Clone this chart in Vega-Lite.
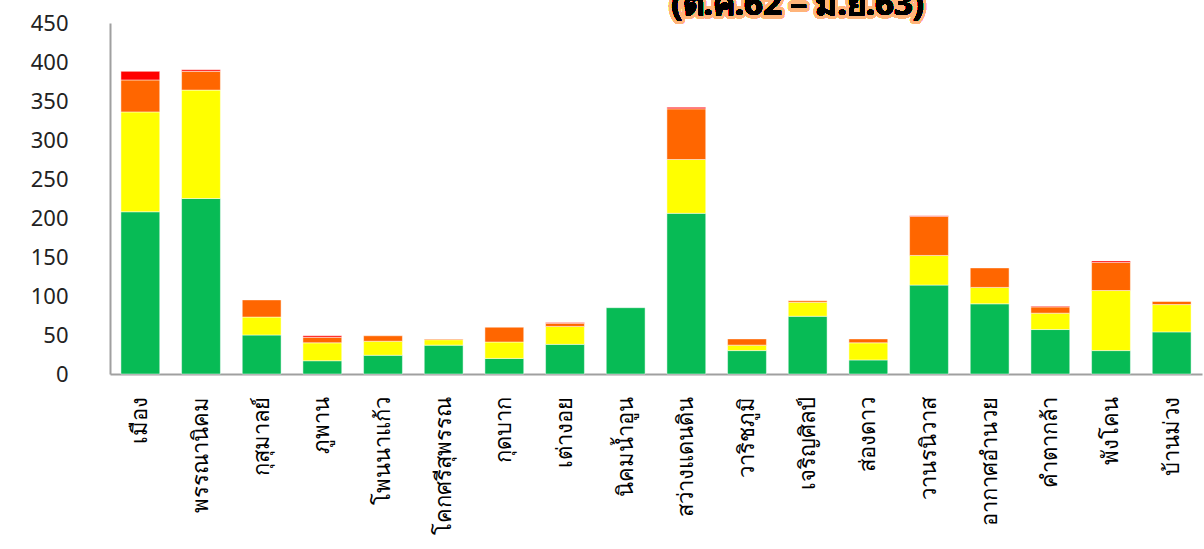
{
  "$schema": "https://vega.github.io/schema/vega-lite/v6.json",
  "autosize": {"type": "none"},
  "width": 1092,
  "height": 351,
  "padding": {"left": 110, "top": 23, "right": 2, "bottom": 175},
  "background": "white",
  "config": {"view": {"stroke": null}, "font": "Noto Sans"},
  "data": {"values": [
    {"district": "เมือง", "risk": 1, "value": 208}, {"district": "เมือง", "risk": 2, "value": 128}, {"district": "เมือง", "risk": 3, "value": 41}, {"district": "เมือง", "risk": 4, "value": 11},
    {"district": "พรรณานิคม", "risk": 1, "value": 225}, {"district": "พรรณานิคม", "risk": 2, "value": 139}, {"district": "พรรณานิคม", "risk": 3, "value": 24}, {"district": "พรรณานิคม", "risk": 4, "value": 2},
    {"district": "กุสุมาลย์", "risk": 1, "value": 50}, {"district": "กุสุมาลย์", "risk": 2, "value": 23}, {"district": "กุสุมาลย์", "risk": 3, "value": 22},
    {"district": "ภูพาน", "risk": 1, "value": 17}, {"district": "ภูพาน", "risk": 2, "value": 23}, {"district": "ภูพาน", "risk": 3, "value": 7}, {"district": "ภูพาน", "risk": 4, "value": 2},
    {"district": "โพนนาแก้ว", "risk": 1, "value": 24}, {"district": "โพนนาแก้ว", "risk": 2, "value": 18}, {"district": "โพนนาแก้ว", "risk": 3, "value": 7},
    {"district": "โคกศรีสุพรรณ", "risk": 1, "value": 37}, {"district": "โคกศรีสุพรรณ", "risk": 2, "value": 7}, {"district": "โคกศรีสุพรรณ", "risk": 3, "value": 1},
    {"district": "กุดบาก", "risk": 1, "value": 20}, {"district": "กุดบาก", "risk": 2, "value": 21}, {"district": "กุดบาก", "risk": 3, "value": 19},
    {"district": "เต่างอย", "risk": 1, "value": 38}, {"district": "เต่างอย", "risk": 2, "value": 23}, {"district": "เต่างอย", "risk": 3, "value": 4}, {"district": "เต่างอย", "risk": 4, "value": 1},
    {"district": "นิคมน้ำอูน", "risk": 1, "value": 85},
    {"district": "สว่างแดนดิน", "risk": 1, "value": 206}, {"district": "สว่างแดนดิน", "risk": 2, "value": 69}, {"district": "สว่างแดนดิน", "risk": 3, "value": 65}, {"district": "สว่างแดนดิน", "risk": 4, "value": 2},
    {"district": "วาริชภูมิ", "risk": 1, "value": 30}, {"district": "วาริชภูมิ", "risk": 2, "value": 7}, {"district": "วาริชภูมิ", "risk": 3, "value": 8},
    {"district": "เจริญศิลป์", "risk": 1, "value": 74}, {"district": "เจริญศิลป์", "risk": 2, "value": 18}, {"district": "เจริญศิลป์", "risk": 3, "value": 2},
    {"district": "ส่องดาว", "risk": 1, "value": 18}, {"district": "ส่องดาว", "risk": 2, "value": 22}, {"district": "ส่องดาว", "risk": 3, "value": 5},
    {"district": "วานรนิวาส", "risk": 1, "value": 114}, {"district": "วานรนิวาส", "risk": 2, "value": 38}, {"district": "วานรนิวาส", "risk": 3, "value": 50}, {"district": "วานรนิวาส", "risk": 4, "value": 1},
    {"district": "อากาศอำนวย", "risk": 1, "value": 90}, {"district": "อากาศอำนวย", "risk": 2, "value": 21}, {"district": "อากาศอำนวย", "risk": 3, "value": 25},
    {"district": "คำตากล้า", "risk": 1, "value": 57}, {"district": "คำตากล้า", "risk": 2, "value": 21}, {"district": "คำตากล้า", "risk": 3, "value": 8}, {"district": "คำตากล้า", "risk": 4, "value": 1},
    {"district": "พังโคน", "risk": 1, "value": 30}, {"district": "พังโคน", "risk": 2, "value": 77}, {"district": "พังโคน", "risk": 3, "value": 36}, {"district": "พังโคน", "risk": 4, "value": 2},
    {"district": "บ้านม่วง", "risk": 1, "value": 54}, {"district": "บ้านม่วง", "risk": 2, "value": 35}, {"district": "บ้านม่วง", "risk": 3, "value": 4}
  ]},
  "layer": [
    {
      "mark": {"type": "bar", "stroke": "#ffffff", "strokeWidth": 0.8, "strokeOpacity": 0.6},
      "encoding": {
        "x": {
          "field": "district", "type": "nominal",
          "sort": ["เมือง", "พรรณานิคม", "กุสุมาลย์", "ภูพาน", "โพนนาแก้ว", "โคกศรีสุพรรณ", "กุดบาก", "เต่างอย", "นิคมน้ำอูน", "สว่างแดนดิน", "วาริชภูมิ", "เจริญศิลป์", "ส่องดาว", "วานรนิวาส", "อากาศอำนวย", "คำตากล้า", "พังโคน", "บ้านม่วง"],
          "scale": {"paddingInner": 0.36, "paddingOuter": 0.18},
          "axis": {
            "title": null, "labelAngle": -90, "labelFontSize": 22, "labelColor": "#000000",
            "labelPadding": 22, "labelLimit": 400, "ticks": false,
            "domainColor": "#A0A0A0", "domainWidth": 2
          }
        },
        "y": {
          "field": "value", "type": "quantitative", "stack": "zero",
          "scale": {"domain": [0, 450], "nice": false},
          "axis": {
            "title": null, "values": [0, 50, 100, 150, 200, 250, 300, 350, 400, 450],
            "labelOverlap": false, "labelFlush": false,
            "grid": false, "ticks": false, "labelFontSize": 22, "labelColor": "#222222",
            "labelPadding": 42, "domainColor": "#A0A0A0", "domainWidth": 2
          }
        },
        "color": {
          "field": "risk", "type": "nominal",
          "scale": {"domain": [1, 2, 3, 4], "range": ["#07BB55", "#FFFF00", "#FF6600", "#FF0000"]},
          "legend": null
        },
        "order": {"field": "risk", "type": "quantitative", "sort": "ascending"}
      }
    },
    {
      "mark": {"type": "text", "text": "(ต.ค.62 – มิ.ย.63)", "fontSize": 33, "fontWeight": "bold", "baseline": "alphabetic", "align": "center", "dx": -10,
        "fill": "#FFC08A", "stroke": "#FFB47A", "strokeWidth": 7, "strokeOpacity": 0.45, "strokeJoin": "round"},
      "encoding": {
        "x": {"datum": "เจริญศิลป์"},
        "y": {"datum": 460, "type": "quantitative", "axis": {
            "title": null, "values": [0, 50, 100, 150, 200, 250, 300, 350, 400, 450],
            "labelOverlap": false, "labelFlush": false,
            "grid": false, "ticks": false, "labelFontSize": 22, "labelColor": "#222222",
            "labelPadding": 42, "domainColor": "#A0A0A0", "domainWidth": 2
          }}
      }
    },
    {
      "mark": {"type": "text", "text": "(ต.ค.62 – มิ.ย.63)", "fontSize": 33, "fontWeight": "bold", "baseline": "alphabetic", "align": "center", "dx": -10, "fill": "#000000"},
      "encoding": {
        "x": {"datum": "เจริญศิลป์"},
        "y": {"datum": 460, "type": "quantitative", "axis": {
            "title": null, "values": [0, 50, 100, 150, 200, 250, 300, 350, 400, 450],
            "labelOverlap": false, "labelFlush": false,
            "grid": false, "ticks": false, "labelFontSize": 22, "labelColor": "#222222",
            "labelPadding": 42, "domainColor": "#A0A0A0", "domainWidth": 2
          }}
      }
    }
  ]
}
